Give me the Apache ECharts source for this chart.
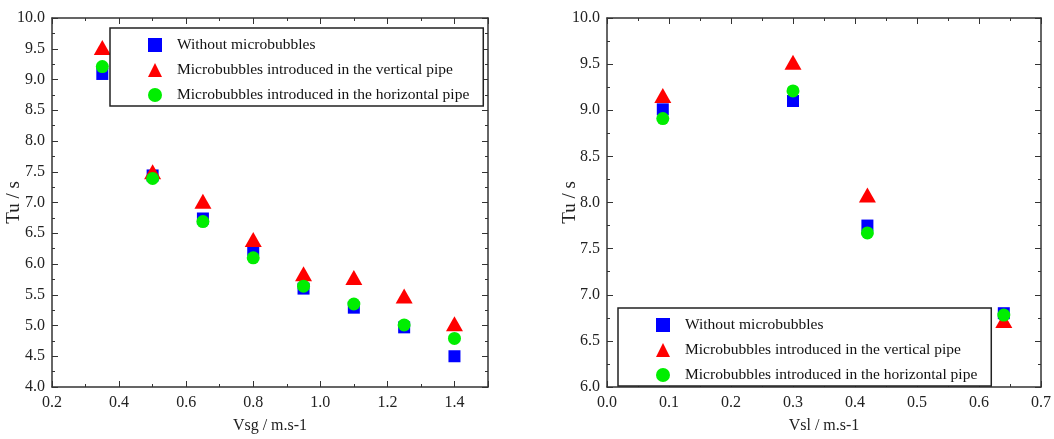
<!DOCTYPE html>
<html>
<head>
<meta charset="utf-8">
<script src="https://cdn.jsdelivr.net/npm/echarts@6/dist/echarts.min.js"></script>
<style>html,body{margin:0;padding:0;background:#fff}#c{width:1054px;height:439px}</style>
</head>
<body>
<div id="c"></div>
<script>
// Left panel: Tu vs Vsg
const vsg = [0.35, 0.5, 0.65, 0.8, 0.95, 1.1, 1.25, 1.4];
const leftWithout = [9.09, 7.44, 6.74, 6.23, 5.6, 5.29, 4.97, 4.5];
const leftVertical = [9.52, 7.5, 7.02, 6.4, 5.84, 5.78, 5.48, 5.03];
const leftHorizontal = [9.21, 7.39, 6.69, 6.1, 5.64, 5.35, 5.01, 4.79];
// Right panel: Tu vs Vsl
const vsl = [0.09, 0.3, 0.42, 0.64];
const rightWithout = [9.01, 9.1, 7.75, 6.8];
const rightVertical = [9.16, 9.52, 8.08, 6.72];
const rightHorizontal = [8.91, 9.21, 7.67, 6.78];

const names = ['Without microbubbles', 'Microbubbles introduced in the vertical pipe', 'Microbubbles introduced in the horizontal pipe'];
const font = "'Liberation Serif', 'Times New Roman', serif";
const axisCol = '#333';

function pairs(xs, ys){ return xs.map((x,i)=>[x, ys[i]]); }

function xAx(grid, min, max, interval, name, pos, show, showMax){
  return {
    type:'value', gridIndex:grid, min, max, interval, position:pos,
    name: show ? name : '', nameLocation:'middle', nameGap:31, nameMoveOverlap:false,
    nameTextStyle:{fontFamily:font, fontSize:16, color:'#222'},
    axisLine:{show:true, onZero:false, lineStyle:{color:axisCol, width:1.5}},
    axisTick:{show:true, inside:true, length:6, lineStyle:{color:axisCol}},
    minorTick:{show:true, splitNumber:2, length:3, lineStyle:{color:axisCol}},
    axisLabel:{show:show, showMaxLabel:showMax, fontFamily:font, fontSize:16, color:'#222', margin:8,
      formatter:v=>v.toFixed(1)},
    splitLine:{show:false}
  };
}
function yAx(grid, min, max, interval, name, pos, show, gap){
  return {
    type:'value', gridIndex:grid, min, max, interval, position:pos,
    name: show ? name : '', nameLocation:'middle', nameGap:gap, nameMoveOverlap:false,
    nameTextStyle:{fontFamily:font, fontSize:19, color:'#222'},
    axisLine:{show:true, onZero:false, lineStyle:{color:axisCol, width:1.5}},
    axisTick:{show:true, inside:true, length:6, lineStyle:{color:axisCol}},
    minorTick:{show:true, splitNumber:2, length:3, lineStyle:{color:axisCol}},
    axisLabel:{show:show, fontFamily:font, fontSize:16, color:'#222', margin:7,
      formatter:v=>v.toFixed(1)},
    splitLine:{show:false}
  };
}

const styles = [
  {symbol:'rect', symbolSize:12, color:'#0000ff'},
  {symbol:'triangle', symbolSize:[17,15], color:'#ff0000'},
  {symbol:'circle', symbolSize:13, color:'#00ee00'}
];

function mk(idx, xi, yi, data){
  const s = styles[idx];
  return {type:'scatter', name:names[idx], xAxisIndex:xi, yAxisIndex:yi, data,
    symbol:s.symbol, symbolSize:s.symbolSize, itemStyle:{color:s.color, opacity:1}, z:2+idx};
}

const legendBase = {
  orient:'vertical', data:names, itemWidth:14, itemHeight:14, itemGap:9,
  borderColor:'#222', borderWidth:1.5, backgroundColor:'#fff',
  textStyle:{fontFamily:font, fontSize:15.5, color:'#111', padding:[0,0,0,10]},
  selectedMode:false
};

const option = {
  animation:false,
  backgroundColor:'#fff',
  grid:[
    {left:52, top:18, width:436, height:375},
    {left:607, top:18, width:438, height:377}
  ],
  xAxis:[
    xAx(0, 0.2, 1.5, 0.2, 'Vsg / m.s-1', 'bottom', true, false),
    xAx(0, 0.2, 1.5, 0.2, '', 'top', false, false),
    xAx(1, 0, 0.7, 0.1, 'Vsl / m.s-1', 'bottom', true, true),
    xAx(1, 0, 0.7, 0.1, '', 'top', false, false)
  ],
  yAxis:[
    yAx(0, 4, 10, 0.5, 'Tu / s', 'left', true, 28),
    yAx(0, 4, 10, 0.5, '', 'right', false, 0),
    yAx(1, 6, 10, 0.5, 'Tu / s', 'left', true, 27),
    yAx(1, 6, 10, 0.5, '', 'right', false, 0)
  ],
  legend:[
    Object.assign({}, legendBase, {left:110, top:28, padding:[9,14,3,38]}),
    Object.assign({}, legendBase, {left:618, top:308, padding:[9,14,3,38]})
  ],
  series:[
    mk(0, 0, 0, pairs(vsg, leftWithout)),
    mk(1, 0, 0, pairs(vsg, leftVertical)),
    mk(2, 0, 0, pairs(vsg, leftHorizontal)),
    mk(0, 2, 2, pairs(vsl, rightWithout)),
    mk(1, 2, 2, pairs(vsl, rightVertical)),
    mk(2, 2, 2, pairs(vsl, rightHorizontal))
  ]
};
const chart = echarts.init(document.getElementById('c'), null, {renderer:'canvas'});
chart.setOption(option);
</script>
</body>
</html>
